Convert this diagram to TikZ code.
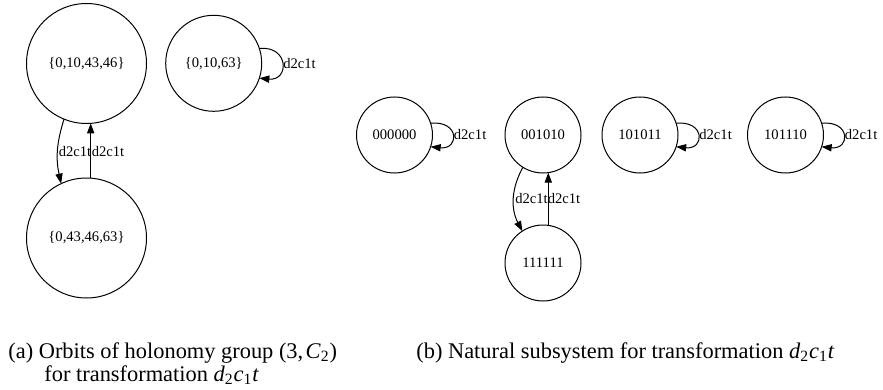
\documentclass[tikz,border=0pt]{standalone}
\usepackage{fontspec}
\setmainfont{Liberation Serif}
\usetikzlibrary{arrows.meta}
\begin{document}
\begin{tikzpicture}[x=0.5pt,y=-0.5pt,
  state/.style={circle,draw,line width=0.5pt,inner sep=0pt,outer sep=0pt,
    font=\fontsize{7.3}{8}\selectfont},
  stbig/.style={state,minimum size=60pt},
  stmid/.style={state,minimum size=48pt},
  stsmall/.style={state,minimum size=38pt},
  conn/.style={draw,line width=0.5pt,-{Triangle[length=5pt,width=3.6pt]}},
  lbl/.style={font=\fontsize{7.3}{8}\selectfont,inner sep=0.5pt},
  captxt/.style={font=\fontsize{11.2}{11}\selectfont,inner sep=0pt,anchor=base west}]
\useasboundingbox (0,0) rectangle (883,390);

% (a) orbits of the holonomy group
\node[stbig] (o1) at (86.5,63.5) {\{0,10,43,46\}};
\node[stbig] (o2) at (86.5,238) {\{0,43,46,63\}};
\node[stmid] (o3) at (213.7,63.3) {\{0,10,63\}};

\draw[conn] (o1.-112) to[bend right=15] (o2.115);
\draw[conn] (o2.86) -- (o1.-86);
\node[lbl] (la1) at (75,152) {d2c1t};
\node[lbl] (la2) at (108,152) {d2c1t};
\draw[conn] (o3.18) .. controls +(30,-3) and +(30,3) .. (o3.-18)
  node[lbl,pos=0.5,anchor=west] (la3) {d2c1t};

% (b) natural subsystem
\node[stsmall] (s0) at (394.5,135) {000000};
\node[stsmall] (s1) at (543,135) {001010};
\node[stsmall] (s2) at (640,135) {101011};
\node[stsmall] (s3) at (785.5,135) {101110};
\node[stsmall] (s4) at (543,263) {111111};

\draw[conn] (s0.18) .. controls +(29,-3) and +(29,3) .. (s0.-18)
  node[lbl,pos=0.5,anchor=west] (lb0) {d2c1t};
\draw[conn] (s2.18) .. controls +(29,-3) and +(29,3) .. (s2.-18)
  node[lbl,pos=0.5,anchor=west] (lb2) {d2c1t};
\draw[conn] (s3.18) .. controls +(29,-3) and +(29,3) .. (s3.-18)
  node[lbl,pos=0.5,anchor=west] (lb3) {d2c1t};
\draw[conn] (s1.-122) to[bend right=28] (s4.123);
\draw[conn] (s4.82) -- (s1.-82);
\node[lbl] (lb4) at (531.5,199) {d2c1t};
\node[lbl] (lb5) at (564,199) {d2c1t};

% captions
\node[captxt] (capa1) at (8,358) {(a) Orbits of holonomy group (3,\kern1.2pt\textit{C}\textsubscript{2})};
\node[captxt] (capa2) at (44,381) {for transformation \textit{d}\textsubscript{2}\textit{c}\textsubscript{1}\textit{t}};
\node[captxt] (capb) at (416,358) {(b) Natural subsystem for transformation \textit{d}\textsubscript{2}\textit{c}\textsubscript{1}\textit{t}};
\end{tikzpicture}
\end{document}
